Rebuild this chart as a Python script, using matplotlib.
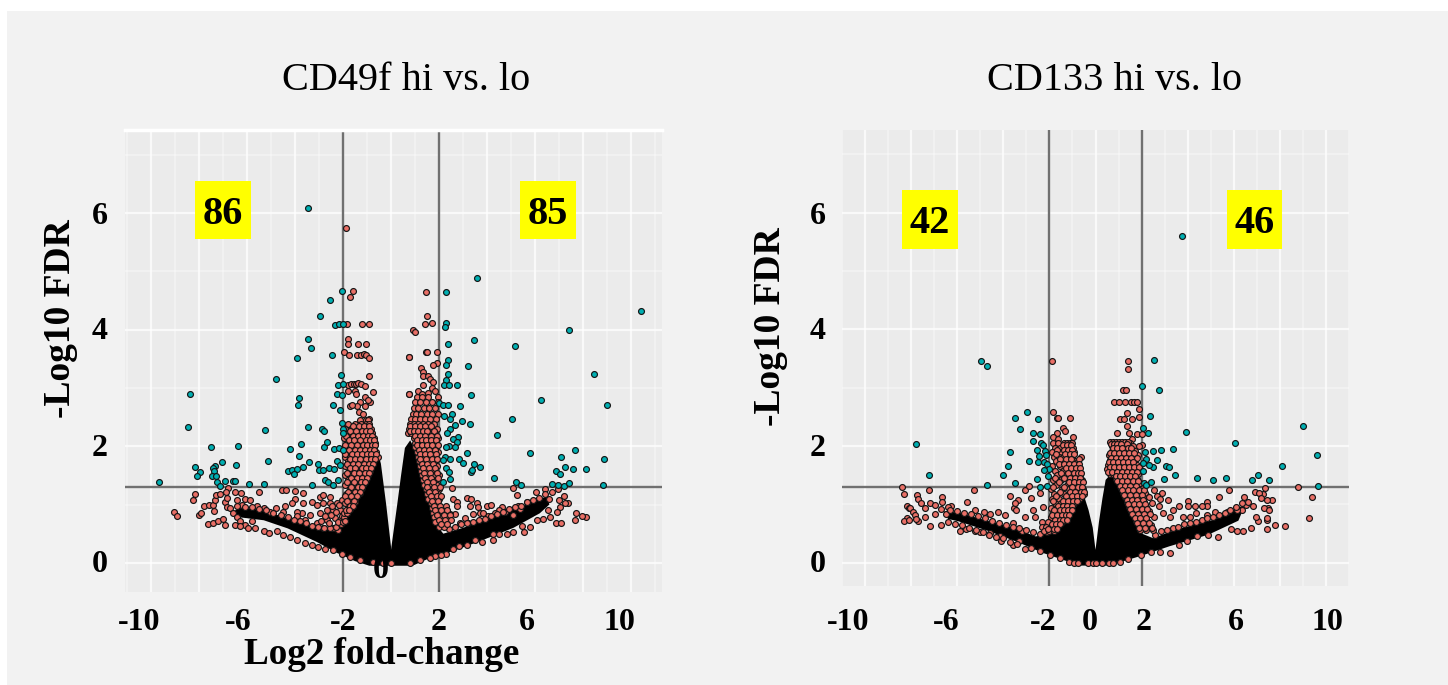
import matplotlib
matplotlib.use('Agg')
import matplotlib.pyplot as plt
from matplotlib.patches import Rectangle
import numpy as np

plt.rcParams['font.family'] = ['Liberation Serif', 'DejaVu Serif']

# ---------------- data (log2 fold-change, -log10 FDR) ----------------
threshold_fc = [-2, 2]
threshold_fdr = 1.3

# left panel: significant genes
a_sig = [(-3.47,6.09),(-2.04,4.66),(-2.53,4.50),(-2.96,4.24),(-2.33,4.08),(-2.17,4.09),(-2.01,4.09),(-3.47,3.83),
         (-3.32,3.69),(-3.93,3.52),(-2.46,3.56),(-2.07,3.22),(-4.79,3.16),(-2.22,3.05),(-2.01,3.06),(-2.23,2.89),
         (-2.05,2.88),(-8.36,2.89),(-3.83,2.82),(-3.87,2.70),(-2.43,2.70),(-2.12,2.62),(-8.47,2.33),(-5.26,2.28),
         (-3.46,2.33),(-2.89,2.29),(-2.79,2.26),(-2.05,2.40),(-2.0,2.29),(-2.0,2.22),(-7.51,1.99),(-6.36,2.0),
         (-4.22,1.95),(-3.75,2.04),(-2.79,1.99),(-2.67,2.07),(-2.38,1.95),(-2.17,1.97),(-2.0,1.94),(-3.85,1.84),
         (-5.11,1.74),(-7.03,1.73),(-7.33,1.66),(-7.43,1.62),(-6.45,1.67),(-8.17,1.64),(-7.97,1.55),(-8.07,1.49),
         (-7.36,1.57),(-7.47,1.49),(-7.29,1.49),(-7.26,1.39),(-7.11,1.31),(-6.92,1.41),(-6.57,1.41),(-6.5,1.41),
         (-5.9,1.35),(-5.28,1.35),(-9.68,1.39),(-4.28,1.58),(-4.11,1.60),(-3.93,1.61),(-4.04,1.53),(-3.65,1.65),
         (-3.4,1.73),(-3.04,1.70),(-2.99,1.60),(-2.85,1.60),(-2.59,1.62),(-2.38,1.61),(-2.26,1.74),(-2.12,1.68),
         (-2.75,1.42),(-2.61,1.39),(-2.19,1.42),(-3.29,1.34),(-2.43,1.33),
         (3.58,4.89),(2.30,4.65),(10.42,4.31),(2.3,4.12),(2.26,4.05),(7.40,4.0),(3.44,3.82),(2.39,3.76),(5.17,3.71),
         (2.39,3.48),(2.30,3.40),(3.21,3.38),(8.46,3.23),(2.36,3.23),(2.28,3.13),(2.21,3.05),(2.40,3.05),(2.75,3.05),
         (3.32,2.87),(6.24,2.79),(2.01,2.74),(2.18,2.70),(2.39,2.70),(2.86,2.69),(9.01,2.70),(2.21,2.51),(2.53,2.56),
         (2.45,2.46),(2.96,2.43),(5.04,2.46),(3.29,2.38),(2.65,2.37),(2.47,2.29),(2.33,2.22),(4.43,2.19),(2.81,2.16),
         (2.57,2.12),(2.76,2.07),(2.67,1.98),(2.43,2.01),(2.28,1.98),(3.17,1.89),(5.79,1.89),(7.67,1.93),(7.08,1.82),
         (8.89,1.78),(2.25,1.82),(2.15,1.77),(2.44,1.78),(2.85,1.78),(3.01,1.71),(3.47,1.70),(3.72,1.65),(2.29,1.62),
         (2.42,1.55),(3.32,1.56),(3.36,1.60),(7.25,1.64),(7.58,1.61),(8.13,1.61),(6.86,1.57),(7.06,1.52),(4.28,1.46),
         (2.45,1.43),(2.15,1.39),(5.22,1.39),(5.43,1.33),(6.7,1.35),(6.97,1.33),(7.2,1.31),(7.42,1.37),(8.85,1.33)]

# left panel: not significant, scattered ones that can be told apart
a_ns = [(-1.89,5.74),(-1.58,4.66),(-1.71,4.55),(-1.82,4.09),(-1.19,4.09),(-0.9,4.09),(-1.81,3.83),(-1.79,3.75),
        (-1.36,3.76),(-1.05,3.76),(-1.94,3.62),(-1.73,3.56),(-1.43,3.56),(-1.26,3.57),(-1.11,3.58),(-1.04,3.56),
        (-0.9,3.52),(0.93,4.0),(1.01,3.95),(0.75,3.53),(-0.9,3.21),(-1.78,3.05),(-1.65,3.07),(-1.55,3.07),(-1.45,3.07),
        (-1.38,3.08),(-1.25,3.07),(-1.1,3.04),(-1.81,2.95),(-1.5,2.95),(-1.46,2.9),(-0.76,2.93),(-1.08,2.85),(-0.87,2.75),
        (-0.95,2.8),(-1.3,2.75),(-1.08,2.69),(-1.4,2.69),(-1.71,2.69),(-1.64,2.7),(-1.35,2.58),(-1.15,2.56),(-0.93,2.47),
        (0.75,2.89),(1.44,4.65),(1.49,4.24),(1.40,4.09),(1.71,4.12),(0.76,3.53),(1.44,3.62),(1.5,3.62),(1.9,3.62),
        (1.93,3.43),(1.76,3.40),(1.24,3.34),(1.35,3.28),(1.32,3.2),(1.55,3.2),(1.62,3.15),(1.76,3.1),(1.32,3.05),(1.69,3.0),
        (1.83,2.94),(0.75,2.9),(1.14,2.95),(1.28,2.9),(1.55,2.92),(1.97,2.85),
        (-9.03,0.88),(-8.93,0.80),(-8.15,1.18),(-8.25,1.08),(-8.01,0.82),(-7.93,0.86),(-7.78,0.98),(-7.57,0.99),(-7.40,1.0),
        (-7.37,0.89),(-7.33,1.08),(-7.29,1.17),(-7.13,1.18),(-7.64,0.66),(-7.40,0.69),(-7.19,0.72),(-7.01,0.75),(-6.90,0.65),
        (-6.5,1.22),(-6.26,1.2),(-5.5,1.22),(-4.55,1.25),(-4.37,1.25),(-4.0,1.23),(-3.65,1.19),(-4.0,1.1),(-4.14,1.02),
        (-3.65,1.03),(-4.43,0.97),(-4.77,0.94),(-4.5,0.88),(-5.04,0.88),(-5.6,0.97),(-5.3,0.94),(-6.09,1.1),(-5.88,1.08),
        (-6.22,0.99),(-6.43,1.08),(-6.9,1.05),(-6.78,1.28),(-6.88,1.22),(-6.82,1.12),(-6.85,0.95),(-6.7,0.94),(-6.57,0.86),
        (-6.43,0.78),(-6.5,0.65),(-6.29,0.71),(-6.08,0.65),(-5.8,0.71),(-6.29,0.64),(-5.95,0.60),(-5.67,0.60),(-5.3,0.54),
        (-5.08,0.52),(-4.76,0.54),(-4.49,0.48),(-4.21,0.45),(-3.93,0.40),(-3.58,0.34),(-3.3,0.30),(-3.03,0.28),(-2.75,0.24),
        (-2.4,0.22),(-2.05,0.16),(-1.71,0.10),(-1.29,0.05),(-0.73,0.01),(-0.32,0.0),(0.0,0.0),(-3.3,1.05),(-2.96,1.13),
        (-2.82,1.16),(-2.54,1.13),(-3.09,1.0),(-2.82,1.03),(-2.54,1.03),(-2.26,1.03),(-2.05,1.08),(-2.68,0.9),(-2.4,0.9),
        (-2.12,0.9),(-2.96,0.85),(-3.37,0.82),(-3.72,0.85),(-3.93,0.88),(-2.68,0.74),(-2.33,0.77),(-2.12,0.74),(-3.09,0.68),
        (-3.58,0.74),(-3.93,0.8),(-2.4,0.6),(-2.82,0.6),(-2.19,0.56),
        (8.14,0.78),(7.96,0.8),(7.68,0.73),(7.72,0.86),(6.89,0.68),(7.1,0.69),(7.36,1.02),(7.22,1.15),(7.0,1.08),(7.25,1.02),
        (7.04,0.95),(6.9,0.88),(6.63,0.79),(6.56,0.9),(6.42,1.26),(6.7,1.22),(6.97,1.27),(6.04,1.22),(5.65,1.04),(5.07,1.28),
        (5.24,1.17),(2.53,1.29),(3.18,1.11),(3.32,1.1),(2.6,1.1),(2.76,1.05),(2.74,0.97),(3.29,0.97),(3.57,1.02),(3.61,0.96),
        (4.0,0.97),(4.15,1.0),(4.61,0.96),(4.5,0.91),(5.28,0.97),(5.38,0.93),(3.71,0.85),(4.06,0.8),(4.33,0.85),(4.75,0.88),
        (5.1,0.82),(2.67,0.83),(3.08,0.77),(3.43,0.83),(3.85,0.86),(2.18,0.88),(2.46,0.84),(2.88,0.68),(3.22,0.68),
        (2.28,0.16),(2.07,0.14),(1.83,0.12),(1.63,0.08),(1.21,0.05),(0.8,0.0),(2.6,0.24),(2.85,0.29),(3.18,0.31),(3.5,0.39),
        (3.8,0.36),(4.24,0.39),(4.27,0.49),(4.5,0.5),(4.82,0.49),(5.1,0.53),(5.47,0.63),(5.53,0.53),(5.79,0.62),(6.07,0.74),
        (6.35,0.75)]

# left panel: points bordering the black mass
a_edge = [(-6.4,0.98),(-6.1,0.96),(-5.8,0.95),(-5.5,0.92),(-5.2,0.9),(-4.9,0.86),(-4.6,0.82),(-4.3,0.78),(-4.05,0.74),(-3.8,0.72),
          (-3.55,0.68),(-3.3,0.64),(-3.05,0.62),(-2.8,0.6),(-2.55,0.6),(-2.3,0.62),(-2.1,0.66),(-2.9,0.72),(-2.75,0.8),(-2.6,0.68),
          (-2.5,0.82),(-2.45,0.98),(-2.3,0.88),(-2.2,0.7),(-2.15,1.0),(-2.05,0.8),(-2.0,0.7),(-1.95,0.78),(-1.9,0.72),(-1.85,0.85),
          (-1.8,0.95),(-1.72,0.92),(-1.6,0.97),(-1.5,1.05),(-1.4,1.15),(-1.3,1.2),(-1.2,1.28),(-1.1,1.38),(-1.0,1.48),(-0.9,1.56),
          (-0.8,1.7),(-0.7,1.85),(2.4,0.58),(2.65,0.62),(2.9,0.66),(3.15,0.68),(3.4,0.7),(3.65,0.74),(3.9,0.76),(4.15,0.8),(4.4,0.84),
          (4.65,0.87),(4.9,0.92),(5.15,0.95),(5.4,0.98),(5.65,1.04),(5.9,1.08),(6.15,1.12),(6.4,1.18),(6.6,1.1)]

# left panel: crowded wedges, one row per tied FDR value
a_rows_neg = {2.45: [-1.3,-1.05,-0.95], 2.38: [-1.78,-1.5,-1.25,-1.05,-0.9], 2.30: [-1.9,-1.65,-1.42,-1.18,-0.98,-0.82],
              2.22: [-1.8,-1.55,-1.33,-1.1,-0.92,-0.78], 2.14: [-1.95,-1.7,-1.46,-1.22,-1.02,-0.84,-0.72],
              2.06: [-1.85,-1.6,-1.35,-1.12,-0.95,-0.76,-0.66], 1.98: [-1.93,-1.72,-1.48,-1.25,-1.05,-0.86,-0.7],
              1.90: [-1.82,-1.58,-1.36,-1.15,-0.95,-0.78,-0.62], 1.82: [-1.9,-1.7,-1.45,-1.22,-1.02,-0.85,-0.68,-0.55],
              1.74: [-1.8,-1.56,-1.32,-1.1,-0.92,-0.74], 1.66: [-1.92,-1.68,-1.42,-1.18,-0.98,-0.82],
              1.58: [-1.76,-1.52,-1.28,-1.06,-0.88], 1.50: [-1.9,-1.62,-1.36,-1.14,-0.96], 1.42: [-1.78,-1.46,-1.22,-1.05],
              1.34: [-1.92,-1.58,-1.32,-1.15], 1.26: [-1.72,-1.45,-1.25], 1.18: [-1.88,-1.56,-1.38], 1.10: [-1.75,-1.5],
              1.02: [-1.92,-1.62], 0.94: [-1.78,-1.7], 0.86: [-1.95,-1.85],
              2.34: [-1.6,-1.35,-1.12,-0.92], 2.26: [-1.72,-1.45,-1.22,-1.02,-0.86], 2.18: [-1.88,-1.6,-1.38,-1.15,-0.95,-0.78],
              2.10: [-1.75,-1.52,-1.28,-1.05,-0.88,-0.7], 2.02: [-1.9,-1.65,-1.4,-1.18,-1.0,-0.8,-0.68],
              1.94: [-1.75,-1.5,-1.3,-1.08,-0.88,-0.7], 1.86: [-1.92,-1.62,-1.42,-1.2,-1.0,-0.82,-0.62],
              1.78: [-1.72,-1.48,-1.28,-1.05,-0.85,-0.65], 1.70: [-1.85,-1.6,-1.38,-1.12,-0.92,-0.75],
              1.62: [-1.72,-1.48,-1.22,-1.02,-0.85], 1.54: [-1.84,-1.55,-1.32,-1.08,-0.92], 1.46: [-1.68,-1.42,-1.2,-1.0],
              1.38: [-1.85,-1.52,-1.26,-1.08], 1.30: [-1.65,-1.38,-1.2], 1.22: [-1.8,-1.5,-1.3], 1.14: [-1.92,-1.65,-1.42],
              1.06: [-1.82,-1.55], 0.98: [-1.72,-1.6], 0.90: [-1.88,-1.75]}
a_rows_pos = {2.85: [1.1,1.3,1.55], 2.75: [1.0,1.2,1.45,1.7,1.95], 2.65: [0.95,1.12,1.38,1.6,1.85],
              2.55: [0.9,1.05,1.25,1.5,1.72,1.95], 2.46: [0.85,1.0,1.2,1.4,1.62,1.88], 2.38: [0.8,0.95,1.12,1.32,1.55,1.8],
              2.30: [0.75,0.92,1.08,1.25,1.45,1.68,1.9], 2.22: [0.72,0.85,1.02,1.18,1.38,1.6,1.85],
              2.14: [0.95,1.12,1.3,1.5,1.72,1.95], 2.06: [1.0,1.18,1.38,1.55,1.8], 1.98: [1.02,1.22,1.4,1.62,1.88],
              1.90: [1.1,1.28,1.48,1.7,1.95], 1.82: [1.12,1.32,1.52,1.78], 1.74: [1.15,1.35,1.58,1.85],
              1.66: [1.2,1.4,1.65,1.92], 1.58: [1.25,1.48,1.72], 1.50: [1.3,1.5,1.8,1.98], 1.42: [1.35,1.58,1.85],
              1.34: [1.38,1.62,1.9], 1.26: [1.45,1.7,2.0], 1.18: [1.5,1.75,1.95], 1.10: [1.55,1.8,2.0], 1.02: [1.65,1.88],
              0.94: [1.7,1.95,2.1], 0.86: [1.75,2.0,2.2], 0.78: [1.8,2.05,2.3], 0.70: [1.85,2.1,2.35], 0.62: [2.0,2.2],
              2.34: [0.78,0.98,1.2,1.42,1.68], 2.26: [0.8,0.95,1.12,1.32,1.52,1.78], 2.18: [1.0,1.2,1.42,1.65,1.9],
              2.10: [1.08,1.28,1.45,1.68,1.88], 2.02: [1.08,1.3,1.5,1.72,1.95], 1.94: [1.18,1.38,1.58,1.82],
              1.86: [1.2,1.42,1.62,1.88], 1.78: [1.22,1.45,1.7,1.92], 1.70: [1.3,1.52,1.75], 1.62: [1.35,1.58,1.82],
              1.54: [1.38,1.62,1.9], 1.46: [1.42,1.68,1.95], 1.38: [1.48,1.75], 1.30: [1.52,1.8,2.05], 1.22: [1.6,1.85],
              1.14: [1.65,1.9,2.1], 1.06: [1.72,1.95], 0.98: [1.8,2.05,2.3], 0.90: [1.82,2.1,2.35], 0.82: [1.9,2.2,2.45],
              0.74: [2.0,2.25,2.5], 0.66: [2.1,2.35]}

# left panel: outline of the saturated black mass, points there cannot be read one by one
a_mass = [(0,0.28),(-0.2,1.0),(-0.42,1.7),(-0.58,1.95),(-0.75,1.65),(-1.0,1.4),(-1.35,1.1),(-1.7,0.85),(-2.0,0.62),(-2.4,0.58),
          (-3.1,0.6),(-4.3,0.76),(-5.3,0.9),(-6.2,0.95),(-6.6,0.88),(-6.3,0.78),(-5.3,0.73),(-4.3,0.59),(-3.1,0.36),(-2.25,0.17),
          (-1.5,0.03),(-0.9,-0.05),(0.9,-0.05),(1.5,0.06),(2.3,0.16),(3.7,0.37),(5.1,0.6),(6.2,0.85),(6.6,1.0),(6.5,1.14),
          (5.8,1.03),(4.4,0.8),(3.0,0.6),(2.18,0.5),(1.83,0.68),(1.62,1.03),(1.28,1.48),(1.07,1.89),(0.8,2.1),(0.58,1.97),
          (0.42,1.5),(0.26,1.0),(0,0.22)]

# right panel
b_sig = [(-4.96,3.46),(-4.72,3.38),(-7.79,2.04),(-7.22,1.51),(-4.69,1.33),(-4.03,1.51),(-3.49,1.36),(-3.79,1.65),(-3.71,1.89),
         (-3.51,2.48),(-2.96,2.58),(-2.5,2.47),(-3.26,2.3),(-2.73,2.22),(-2.39,2.21),(-2.72,2.08),(-2.38,2.06),(-2.29,2.01),
         (-2.56,1.93),(-2.17,1.92),(-2.44,1.83),(-2.15,1.85),(-2.89,1.74),(-2.51,1.73),(-2.25,1.72),(-2.1,1.70),(-2.0,1.61),
         (-2.22,1.59),(-2.06,1.48),(-2.54,1.43),(-2.4,1.30),(-2.1,1.32),
         (3.77,5.6),(2.55,3.47),(2.03,3.03),(2.74,2.96),(2.38,2.52),(2.08,2.31),(2.28,2.23),(3.93,2.24),(6.04,2.05),(9.01,2.34),
         (9.6,1.84),(8.11,1.65),(2.51,1.91),(2.86,1.93),(3.35,1.95),(2.13,1.89),(2.18,1.77),(2.08,1.71),(2.67,1.76),(2.5,1.64),
         (2.32,1.68),(2.04,1.57),(3.08,1.66),(3.19,1.64),(3.46,1.51),(2.99,1.43),(4.4,1.45),(5.1,1.42),(5.67,1.46),(6.8,1.42),
         (7.07,1.50),(7.54,1.42),(9.64,1.31),(2.11,1.37),(2.2,1.33),(2.4,1.38)]

b_ns = [(-1.89,3.46),(-1.83,2.58),(-1.67,2.48),(-1.64,2.48),(-1.11,2.48),(-1.43,2.31),(-1.33,2.26),(-1.68,2.23),(-0.98,2.16),
        (-1.86,2.16),(-1.61,2.12),(-8.38,1.29),(-8.32,1.17),(-7.73,1.16),(-7.7,1.10),(-7.21,1.25),(-5.26,1.25),(-5.56,1.04),
        (-6.64,1.12),(-6.64,1.04),(-8.17,0.97),(-8.11,0.93),(-8.17,0.77),(-8.03,0.94),(-7.93,0.87),(-7.82,0.81),(-7.71,0.71),
        (-7.78,0.75),(-8.31,0.71),(-8.1,0.73),(-7.41,0.94),(-7.41,0.79),(-7.57,1.02),(-7.18,1.02),(-6.97,0.99),(-7.2,0.63),
        (-6.97,0.83),(-6.69,0.65),(-6.27,0.98),(-6.4,0.96),(-6.5,0.83),(-5.87,0.54),(-5.6,0.57),(-5.25,0.54),(-5.0,0.52),
        (-4.56,0.51),(-4.11,0.37),(-4.14,0.45),(-3.58,0.31),(-3.3,0.37),(-3.05,0.23),(-2.78,0.26),(-2.4,0.2),(-1.98,0.14),
        (-1.56,0.08),(-1.15,0.02),(-5.25,0.91),(-4.83,0.87),(-4.56,0.83),(-4.24,0.87),(-3.93,0.82),(-3.54,0.94),(-3.37,1.08),
        (-3.5,1.02),(-3.69,1.15),(-3.44,0.9),(-3.05,0.78),(-2.82,1.11),(-2.73,0.91),(-2.61,0.79),(-2.33,0.69),(-2.26,0.95),
        (-2.4,1.2),(-3.07,1.25),(-2.89,1.31),(-2.33,0.62),(-3.17,0.54),(-3.58,0.68),
        (-0.94,0.0),(-0.74,0.0),(-0.33,0.0),(-0.12,0.0),(0.02,0.0),(0.3,0.0),(0.58,0.0),(0.75,0.0),
        (1.4,3.46),(1.43,3.32),(1.18,2.96),(1.32,2.96),(0.82,2.76),(1.03,2.76),(1.28,2.76),(1.56,2.76),(1.69,2.76),(1.78,2.76),
        (1.89,2.64),(1.38,2.56),(1.88,2.5),(1.06,2.47),(1.24,2.47),(1.57,2.47),(1.35,2.34),(0.93,2.23),(1.47,2.23),(1.79,2.2),
        (2.01,2.2),(1.6,2.12),(1.49,2.05),(2.02,2.02),
        (8.8,1.30),(9.4,1.13),(9.26,0.76),(8.23,0.63),(7.8,0.65),(7.45,0.58),(7.45,0.74),(7.67,1.08),(7.5,0.93),(7.45,1.08),
        (7.36,1.28),(7.28,1.17),(6.9,1.21),(7.1,1.20),(7.18,1.11),(6.45,1.13),(5.8,1.25),(5.35,1.13),(4.82,1.04),(4.82,0.98),
        (4.61,0.98),(4.31,0.98),(4.0,1.05),(4.0,0.98),(3.64,0.98),(4.36,0.86),(5.18,0.87),(4.83,0.82),(5.72,0.87),(2.88,1.19),
        (2.55,1.25),(2.67,1.15),(2.81,1.1),(3.13,1.08),(2.25,1.14),(2.46,1.02),(2.74,0.97),(3.36,0.91),(2.92,0.85),(3.22,0.79),
        (3.78,0.79),(4.11,0.79),(2.53,0.79),(2.25,0.91),(3.22,0.17),(2.81,0.19),(2.39,0.19),(1.97,0.13),(1.42,0.07),(1.07,0.02),
        (3.64,0.3),(3.99,0.37),(4.4,0.45),(4.9,0.48),(5.31,0.44),(5.86,0.57),(6.14,0.55),(6.42,0.55),(6.76,0.59),(7.04,0.71),
        (7.46,0.76),(6.95,0.79),(7.32,0.93),(7.53,0.9),(6.55,0.99),(6.83,0.97),(6.35,0.9),(6.14,0.9)]

b_edge = [(-6.7,0.92),(-6.3,0.9),(-6.0,0.88),(-5.7,0.86),(-5.4,0.83),(-5.1,0.8),(-4.8,0.76),(-4.5,0.72),(-4.2,0.68),(-3.9,0.65),
          (-3.6,0.62),(-3.3,0.6),(-3.0,0.56),(-2.7,0.52),(-2.4,0.5),(-2.1,0.52),(-6.4,0.7),(-6.1,0.66),(-5.8,0.64),(-5.5,0.6),
          (-5.2,0.56),(-4.9,0.52),(-4.6,0.48),(-4.3,0.44),(-4.0,0.42),(-3.7,0.36),(-3.4,0.32),(2.6,0.48),(2.85,0.54),(3.1,0.56),
          (3.35,0.6),(3.6,0.62),(3.85,0.66),(4.1,0.68),(4.35,0.7),(4.6,0.74),(4.85,0.76),(5.1,0.78),(5.35,0.82),(5.6,0.86),
          (5.85,0.9),(6.1,0.96),(6.35,1.02),(6.6,1.04)]

b_rows_neg = {2.05: [-1.85,-1.62,-1.36,-1.24,-1.12,-1.0], 1.97: [-1.75,-1.55,-1.3,-1.15,-0.98], 1.90: [-1.9,-1.5,-1.25,-1.08,-0.92],
              1.82: [-1.8,-1.6,-1.42,-1.18,-1.0,-0.64], 1.74: [-1.7,-1.45,-1.32,-1.1,-0.9,-0.78], 1.66: [-1.88,-1.52,-1.2,-1.0,-0.8],
              1.58: [-1.75,-1.4,-1.1,-0.88,-0.72], 1.50: [-1.65,-1.3,-1.05,-0.85,-0.68], 1.42: [-1.85,-1.5,-1.2,-0.95,-0.75,-0.6],
              1.34: [-1.7,-1.25,-1.05,-0.82,-0.62], 1.26: [-1.95,-1.45,-1.15,-0.92,-0.7,-0.55], 1.18: [-1.8,-1.35,-1.0,-0.78,-0.52],
              1.10: [-1.9,-1.6,-1.2,-0.9,-0.7], 1.02: [-1.75,-1.5,-1.35,-1.1,-0.95], 0.94: [-1.95,-1.65,-1.45,-1.28,-1.1],
              0.86: [-1.85,-1.6,-1.42,-1.25], 0.78: [-1.95,-1.7,-1.5,-1.38], 0.70: [-2.05,-1.8,-1.62,-1.45],
              0.62: [-2.15,-1.9,-1.72], 0.54: [-2.25,-2.0,-1.8],
              2.01: [-1.4,-1.25,-1.05], 1.93: [-1.65,-1.38,-1.18,-1.02], 1.86: [-1.7,-1.32,-1.12,-0.95], 1.78: [-1.52,-1.28,-1.08,-0.72],
              1.70: [-1.6,-1.38,-1.15,-0.95,-0.7], 1.62: [-1.3,-1.05,-0.85,-0.68], 1.54: [-1.5,-1.2,-0.95,-0.78,-0.62],
              1.46: [-1.75,-1.38,-1.1,-0.88,-0.66], 1.38: [-1.6,-1.15,-0.92,-0.7,-0.55], 1.30: [-1.85,-1.35,-1.0,-0.78,-0.58],
              1.22: [-1.55,-1.12,-0.88,-0.62,-0.5], 1.14: [-1.7,-1.28,-1.02,-0.8,-0.6], 1.06: [-1.85,-1.42,-1.18,-0.98,-0.8],
              0.98: [-1.62,-1.4,-1.22,-1.02], 0.90: [-1.78,-1.52,-1.35,-1.18,-1.0], 0.82: [-1.9,-1.65,-1.45,-1.3,-1.15],
              0.74: [-1.75,-1.55,-1.4,-1.25], 0.66: [-1.9,-1.7,-1.52], 0.58: [-2.05,-1.82,-1.65]}
b_rows_pos = {2.07: [0.65,0.78,0.9,1.02,1.15,1.28,1.4], 2.0: [0.7,0.85,1.0,1.22,1.45,1.62,1.9], 1.92: [0.72,0.88,1.08,1.3,1.5,1.72],
              1.84: [0.58,0.78,0.95,1.15,1.38,1.6,1.85], 1.76: [0.62,0.82,1.02,1.25,1.46,1.7], 1.68: [0.55,0.72,0.92,1.12,1.36,1.55,1.8],
              1.60: [0.5,0.68,0.85,1.05,1.28,1.5,1.72,1.92], 1.52: [0.62,0.78,0.98,1.2,1.42,1.65,1.85], 1.44: [0.9,1.12,1.32,1.58,1.8],
              1.36: [1.0,1.2,1.45,1.68,1.95], 1.28: [1.1,1.35,1.55,1.8,2.05], 1.20: [1.2,1.45,1.7,1.95,2.15], 1.12: [1.3,1.55,1.8,2.05,2.3],
              1.04: [1.38,1.6,1.88,2.1], 0.96: [1.45,1.7,1.95,2.2], 0.88: [1.55,1.8,2.05,2.3], 0.80: [1.65,1.9,2.15],
              0.72: [1.75,2.0,2.25], 0.64: [1.88,2.1,2.4], 0.56: [1.95,2.2,2.5],
              2.03: [0.68,0.82,0.95,1.1,1.35], 1.96: [0.75,0.92,1.15,1.4,1.55], 1.88: [0.62,0.82,1.02,1.25,1.45,1.68],
              1.80: [0.68,0.88,1.1,1.32,1.55,1.78], 1.72: [0.58,0.78,0.98,1.2,1.42,1.62], 1.64: [0.62,0.8,1.0,1.22,1.45,1.68,1.88],
              1.56: [0.55,0.72,0.92,1.15,1.35,1.58,1.8], 1.48: [0.9,1.08,1.28,1.5,1.72], 1.40: [0.95,1.15,1.38,1.62,1.85],
              1.32: [1.05,1.28,1.5,1.75], 1.24: [1.15,1.4,1.62,1.88,2.1], 1.16: [1.25,1.5,1.75,2.0], 1.08: [1.35,1.58,1.82,2.08],
              1.00: [1.42,1.65,1.9,2.15], 0.92: [1.5,1.75,2.0,2.25], 0.84: [1.6,1.85,2.1,2.35], 0.76: [1.7,1.95,2.2],
              0.68: [1.8,2.05,2.3], 0.60: [1.9,2.15,2.45]}

b_mass = [(0,0.22),(-0.12,0.6),(-0.3,0.9),(-0.46,1.1),(-0.7,1.05),(-0.95,0.9),(-1.3,0.72),(-1.7,0.5),(-2.2,0.48),(-2.6,0.45),
          (-3.42,0.58),(-4.7,0.72),(-5.95,0.86),(-6.6,0.88),(-6.4,0.75),(-5.95,0.71),(-4.7,0.55),(-3.42,0.36),(-2.3,0.17),(-1.2,0.02),
          (-0.8,-0.05),(0.6,-0.05),(1.0,0.0),(2.0,0.12),(3.2,0.28),(4.9,0.48),(6.2,0.72),(6.5,1.0),(6.0,0.9),(5.17,0.74),(3.5,0.57),
          (2.5,0.42),(2.0,0.5),(1.7,0.75),(1.4,1.0),(1.1,1.3),(0.85,1.45),(0.62,1.5),(0.44,1.42),(0.3,1.1),(0.15,0.7),(0,0.22)]

# ---------------- layout ----------------
W, H = 1448, 685
pink, teal, panel = '#E96F66', '#00AFB2', '#EBEBEB'


def place(px, py, s, **kw):
    fig.text(px / W, 1 - py / H, s, ha='center', va='center', **kw)


def rows_to_xy(rows):
    pts = [(x, y) for y, xs in rows.items() for x in xs]
    return np.array(pts).T


def draw_panel(ax, sig, ns, edge, rows_neg, rows_pos, mass, xlim, ylim):
    ax.set_facecolor(panel)
    ax.set_xlim(xlim)
    ax.set_ylim(ylim)
    ax.set_xticks(np.arange(-10, 11, 2))
    ax.set_xticks(np.arange(-11, 12, 2), minor=True)
    ax.set_yticks(np.arange(0, 8, 2))
    ax.set_yticks(np.arange(1, 8, 2), minor=True)
    ax.grid(which='major', color='white', lw=1.6, alpha=0.7)
    ax.grid(which='minor', color='white', lw=1.1, alpha=0.4)
    ax.set_axisbelow(True)
    ax.tick_params(which='both', length=0, labelbottom=False, labelleft=False)
    for s in ax.spines.values():
        s.set_visible(False)
    for v in threshold_fc:
        ax.axvline(v, color='#707070', lw=1.7, zorder=1.5)
    ax.axhline(threshold_fdr, color='#707070', lw=1.7, zorder=1.5)
    mx, my = np.array(mass).T
    ax.fill(mx, my, color='black', lw=0, zorder=2)
    for xs, ys, c in [(*np.array(ns).T, pink), (*np.array(edge).T, pink), (*rows_to_xy(rows_neg), pink),
                      (*rows_to_xy(rows_pos), pink), (*np.array(sig).T, teal)]:
        ax.scatter(xs, ys, s=18, c=c, edgecolors='#151515', linewidths=0.85, zorder=3)


fig = plt.figure(figsize=(W / 100, H / 100), dpi=100, facecolor='white')
fig.patches.append(Rectangle((7 / W, 0), 1441 / W, 674 / H, transform=fig.transFigure, color='#F2F2F2', lw=0, zorder=-1))

ax1 = fig.add_axes([125 / W, 1 - 592 / H, 537 / W, 462 / H])
ax2 = fig.add_axes([842 / W, 1 - 586 / H, 507 / W, 456 / H])
draw_panel(ax1, a_sig, a_ns, a_edge, a_rows_neg, a_rows_pos, a_mass, (-11.08, 11.29), (-0.5, 7.42))
draw_panel(ax2, b_sig, b_ns, b_edge, b_rows_neg, b_rows_pos, b_mass, (-10.58, 10.54), (-0.4, 7.42))
ax1.axhline(7.42, color='white', lw=2.5, clip_on=False)

# ---------------- text ----------------
place(406, 81, 'CD49f hi vs. lo', fontsize=29)
place(1115, 81, 'CD133 hi vs. lo', fontsize=29)

tick_style = dict(fontsize=23, fontweight='bold')
for s, px in zip(['-10', '-6', '-2', '2', '6', '10'], [139, 238, 343, 439, 527, 619]):
    place(px, 623, s, **tick_style)
for s, px in zip(['-10', '-6', '-2', '0', '2', '6', '10'], [848, 946, 1043, 1090, 1144, 1236, 1327]):
    place(px, 623, s, **tick_style)
for s, py in zip(['6', '4', '2', '0'], [217, 332, 449, 564]):
    place(100, py, s, **tick_style)
    place(818, py, s, **tick_style)
place(381, 570, '0', zorder=6, **tick_style)

place(382, 655, 'Log2 fold-change', fontsize=26.7, fontweight='bold')
place(60, 319, '-Log10 FDR', fontsize=27, fontweight='bold', rotation=90)
place(771, 327, '-Log10 FDR', fontsize=27, fontweight='bold', rotation=90)

for s, x0, y0, x1, y1 in [('86', 195, 181, 251, 239), ('85', 520, 181, 576, 239),
                          ('42', 902, 190, 958, 249), ('46', 1227, 190, 1282, 249)]:
    fig.patches.append(Rectangle((x0 / W, 1 - y1 / H), (x1 - x0) / W, (y1 - y0) / H, transform=fig.transFigure,
                                 color='#FFFF00', lw=0, zorder=5))
    place((x0 + x1) / 2, (y0 + y1) / 2 + 4, s, fontsize=29, fontweight='bold', zorder=6)

fig.savefig('out.png', dpi=100, facecolor=fig.get_facecolor())
